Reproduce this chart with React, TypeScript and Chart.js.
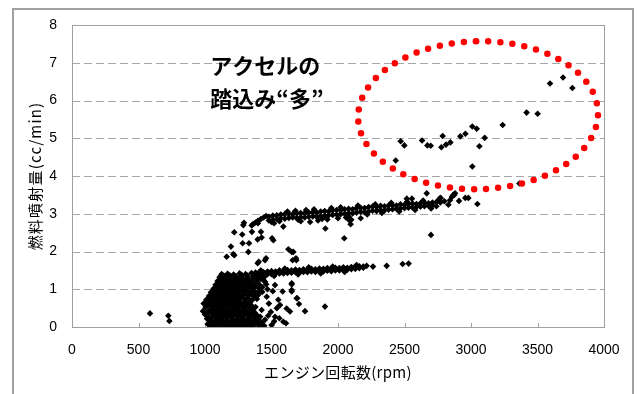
import { useEffect, useRef } from 'react';
import { Chart, registerables } from 'chart.js';

Chart.register(...registerables);

// ---- axis ticks ----
const xTickValues = [0, 500, 1000, 1500, 2000, 2500, 3000, 3500, 4000];
const yTickValues = [0, 1, 2, 3, 4, 5, 6, 7, 8];
const xTitle = 'エンジン回転数(rpm)';
const yTitle = '燃料噴射量(cc/min)';
const noteLines = ['アクセルの', '踏込み“多”'];

// ---- data: [rpm, cc/min] ----
const lowIdle: [number, number][] = [
  [586, 0.36], [724, 0.30], [732, 0.16],
];

const idleBlob: [number, number][] = [
  [1040, 0.03], [1080, 0.02], [1120, 0.04], [1160, 0.02], [1200, 0.03], [1240, 0.01], [1280, 0.04], [1320, 0.02], [1360, 0.03], [1400, 0.05], [1445, 0.03],
  [1060, 0.13], [1100, 0.12], [1140, 0.14], [1180, 0.11], [1220, 0.13], [1260, 0.12], [1300, 0.14], [1340, 0.11], [1380, 0.13], [1425, 0.12],
  [1015, 0.22], [1045, 0.23], [1085, 0.21], [1125, 0.22], [1165, 0.24], [1205, 0.21], [1245, 0.23], [1285, 0.22], [1325, 0.21], [1370, 0.24],
  [1000, 0.33], [1065, 0.32], [1105, 0.31], [1145, 0.33], [1185, 0.32], [1225, 0.34], [1265, 0.31], [1305, 0.33], [1350, 0.32], [1395, 0.30],
  [985, 0.42], [1030, 0.43], [1070, 0.41], [1110, 0.42], [1150, 0.44], [1190, 0.41], [1230, 0.43], [1270, 0.42], [1315, 0.41], [1360, 0.44],
  [1005, 0.52], [1050, 0.53], [1090, 0.51], [1130, 0.52], [1170, 0.54], [1210, 0.51], [1250, 0.53], [1290, 0.52], [1335, 0.50], [1380, 0.53],
  [990, 0.62], [1035, 0.63], [1075, 0.61], [1115, 0.62], [1155, 0.64], [1195, 0.61], [1235, 0.63], [1275, 0.62], [1320, 0.60],
  [1010, 0.72], [1055, 0.73], [1095, 0.71], [1135, 0.72], [1175, 0.74], [1215, 0.71], [1255, 0.73], [1300, 0.72], [1345, 0.70], [1390, 0.74],
  [1030, 0.82], [1075, 0.83], [1115, 0.81], [1155, 0.82], [1195, 0.84], [1235, 0.81], [1280, 0.83], [1325, 0.82], [1370, 0.80],
  [1045, 0.92], [1090, 0.93], [1130, 0.91], [1170, 0.92], [1210, 0.94], [1250, 0.91], [1295, 0.93], [1340, 0.92], [1385, 0.90], [1430, 0.93],
  [1065, 1.02], [1105, 1.03], [1145, 1.01], [1185, 1.02], [1225, 1.04], [1265, 1.01], [1310, 1.03], [1355, 1.02], [1400, 1.05],
  [1080, 1.12], [1120, 1.13], [1160, 1.11], [1200, 1.12], [1240, 1.14], [1280, 1.11], [1325, 1.13], [1370, 1.12], [1415, 1.10], [1460, 1.13],
  [1095, 1.22], [1135, 1.23], [1175, 1.21], [1215, 1.22], [1255, 1.24], [1300, 1.21], [1345, 1.23], [1390, 1.22], [1440, 1.24],
  [1110, 1.32], [1150, 1.33], [1190, 1.31], [1230, 1.32], [1270, 1.34], [1315, 1.31], [1360, 1.33], [1405, 1.32], [1450, 1.34],
  [1125, 1.40], [1170, 1.41], [1215, 1.39], [1260, 1.42], [1305, 1.40], [1350, 1.43],
];

const idleBlobFill: [number, number][] = [
  [1020, 0.08], [1060, 0.07], [1100, 0.09], [1140, 0.08], [1180, 0.07], [1220, 0.09], [1260, 0.08], [1300, 0.06], [1340, 0.08], [1380, 0.09], [1420, 0.07],
  [1035, 0.18], [1080, 0.17], [1120, 0.19], [1160, 0.18], [1200, 0.17], [1240, 0.19], [1280, 0.18], [1320, 0.16], [1360, 0.18], [1400, 0.19],
  [1025, 0.27], [1085, 0.28], [1125, 0.26], [1165, 0.28], [1205, 0.27], [1245, 0.29], [1285, 0.27], [1330, 0.26], [1375, 0.28], [1415, 0.27],
  [1010, 0.37], [1045, 0.38], [1085, 0.36], [1125, 0.37], [1165, 0.39], [1205, 0.36], [1250, 0.38], [1290, 0.37], [1330, 0.36], [1375, 0.38],
  [1050, 0.47], [1090, 0.48], [1130, 0.46], [1170, 0.47], [1210, 0.49], [1250, 0.46], [1290, 0.48], [1340, 0.47],
  [1020, 0.57], [1070, 0.58], [1110, 0.56], [1150, 0.57], [1190, 0.59], [1230, 0.56], [1270, 0.58], [1310, 0.57], [1355, 0.55],
  [1015, 0.67], [1055, 0.68], [1095, 0.66], [1135, 0.67], [1175, 0.69], [1215, 0.66], [1255, 0.68], [1300, 0.67], [1340, 0.65],
  [1035, 0.77], [1075, 0.78], [1115, 0.76], [1155, 0.77], [1195, 0.79], [1235, 0.76], [1275, 0.78], [1320, 0.77], [1365, 0.75],
  [1050, 0.87], [1095, 0.88], [1135, 0.86], [1175, 0.87], [1215, 0.89], [1255, 0.86], [1300, 0.88], [1350, 0.87], [1400, 0.85],
  [1065, 0.97], [1110, 0.98], [1150, 0.96], [1190, 0.97], [1230, 0.99], [1270, 0.96], [1315, 0.98], [1360, 0.97], [1410, 0.95],
  [1085, 1.07], [1125, 1.08], [1165, 1.06], [1205, 1.07], [1245, 1.09], [1290, 1.06], [1335, 1.08], [1380, 1.07], [1430, 1.05],
  [1100, 1.17], [1140, 1.18], [1180, 1.16], [1220, 1.17], [1260, 1.19], [1305, 1.16], [1350, 1.18], [1395, 1.17],
  [1115, 1.27], [1155, 1.28], [1195, 1.26], [1235, 1.27], [1280, 1.29], [1325, 1.26], [1370, 1.28], [1420, 1.27],
  [1140, 1.36], [1185, 1.37], [1230, 1.35], [1275, 1.38], [1320, 1.36], [1380, 1.39], [1430, 1.38],
];

const idleScatter: [number, number][] = [
  [1464, 0.80], [1551, 0.72], [1564, 0.58], [1614, 0.49], [1639, 0.41], [1589, 0.14],
  [1526, 0.27], [1501, 0.05], [1451, 0.19], [1652, 0.94], [1584, 0.94], [1689, 0.76],
  [1526, 1.11], [1451, 1.20], [1426, 0.45], [1652, 1.16], [1652, 0.98], [1694, 0.76],
  [1707, 0.61], [1752, 0.42], [1902, 0.54], [1609, 0.10], [1559, 0.23], [1480, 0.62],
  [1510, 0.95], [1470, 1.00], [1495, 0.40], [1540, 0.50], [1475, 0.30], [1520, 0.15],
];

const lowBand: [number, number][] = [
  [1380, 1.44], [1380, 1.36], [1410, 1.46], [1410, 1.38], [1440, 1.45], [1440, 1.37],
  [1470, 1.47], [1470, 1.40], [1500, 1.48], [1500, 1.40], [1530, 1.47], [1530, 1.41],
  [1560, 1.50], [1560, 1.42], [1590, 1.49], [1590, 1.42], [1620, 1.51], [1620, 1.43],
  [1650, 1.50], [1650, 1.44], [1680, 1.52], [1680, 1.45], [1710, 1.51], [1710, 1.44],
  [1740, 1.53], [1740, 1.46], [1770, 1.52], [1770, 1.45], [1800, 1.54], [1800, 1.47],
  [1830, 1.53], [1830, 1.46], [1860, 1.55], [1860, 1.48], [1890, 1.54], [1890, 1.47],
  [1920, 1.56], [1920, 1.49], [1950, 1.55], [1950, 1.48], [1980, 1.57], [1980, 1.50],
  [2010, 1.56], [2010, 1.50], [2040, 1.58], [2040, 1.51], [2070, 1.57], [2070, 1.52],
  [2100, 1.59], [2100, 1.53], [2130, 1.60], [2130, 1.54], [2160, 1.61], [2160, 1.56],
  [2190, 1.60], [2190, 1.57], [2215, 1.62],
  [2263, 1.60], [2366, 1.62], [2486, 1.67], [2531, 1.68],
  [1420, 1.50], [1520, 1.35], [1600, 1.55], [1700, 1.39], [1780, 1.58], [1870, 1.42],
  [1960, 1.60], [2050, 1.46], [2140, 1.64],
];

const risingSpray: [number, number][] = [
  [1163, 1.86], [1213, 1.93], [1220, 1.90], [1195, 2.13], [1220, 2.51], [1280, 2.45],
  [1288, 2.70], [1293, 2.76], [1351, 2.69], [1362, 2.73], [1380, 2.77], [1398, 2.81],
  [1420, 2.86], [1440, 2.90], [1459, 2.94], [1398, 2.75], [1421, 2.52], [1353, 2.52],
  [1283, 2.22], [1331, 2.22], [1396, 2.32], [1426, 2.37], [1504, 2.35], [1514, 2.30],
  [1519, 2.75], [1589, 2.66], [1326, 1.99], [1627, 2.06], [1664, 1.99], [1459, 1.82],
  [1684, 1.82], [1396, 1.69], [1404, 1.73], [1451, 1.77], [1652, 1.99], [1687, 1.77],
  [1659, 1.77], [1652, 1.13], [1905, 2.61], [2047, 2.35], [2095, 2.72], [2085, 2.83],
  [2171, 2.88], [2699, 2.44],
];

const highBand: [number, number][] = [
  [1480, 2.92], [1480, 2.82], [1510, 2.95], [1510, 2.84], [1540, 2.96], [1540, 2.86],
  [1570, 2.98], [1570, 2.88], [1600, 2.99], [1600, 2.87], [1630, 3.00], [1630, 2.89],
  [1660, 2.99], [1660, 2.90], [1690, 3.01], [1690, 2.89], [1720, 3.02], [1720, 2.91],
  [1750, 3.01], [1750, 2.90], [1780, 3.03], [1780, 2.92], [1810, 3.04], [1810, 2.93],
  [1840, 3.03], [1840, 2.92], [1870, 3.06], [1870, 2.94], [1900, 3.07], [1900, 2.95],
  [1930, 3.06], [1930, 2.96], [1960, 3.09], [1960, 2.97], [1990, 3.10], [1990, 2.98],
  [2020, 3.09], [2020, 2.99], [2050, 3.12], [2050, 3.00], [2080, 3.13], [2080, 3.02],
  [2110, 3.12], [2110, 3.01], [2140, 3.15], [2140, 3.03], [2170, 3.16], [2170, 3.05],
  [2200, 3.15], [2200, 3.04], [2230, 3.18], [2230, 3.06], [2260, 3.19], [2260, 3.08],
  [2290, 3.18], [2290, 3.07], [2320, 3.21], [2320, 3.10], [2350, 3.20], [2350, 3.09],
  [2380, 3.22], [2380, 3.11], [2410, 3.23], [2410, 3.12], [2440, 3.22], [2440, 3.13],
  [2470, 3.25], [2470, 3.14], [2500, 3.24], [2500, 3.15], [2530, 3.26], [2530, 3.16],
  [2560, 3.27], [2560, 3.17], [2590, 3.26], [2590, 3.18], [2620, 3.28], [2620, 3.19],
  [2650, 3.29], [2650, 3.20], [2680, 3.28], [2680, 3.21], [2710, 3.30], [2710, 3.22],
  [2740, 3.31], [2740, 3.20], [2770, 3.30], [2800, 3.33], [2830, 3.24],
  [1720, 2.80], [1790, 2.78], [1850, 2.82], [1920, 2.85], [2000, 2.88], [2060, 2.90], [2100, 2.84],
];

const highBandEdge: [number, number][] = [
  [1500, 2.78], [1560, 2.80], [1620, 3.06], [1680, 3.08], [1700, 2.84], [1760, 3.10],
  [1820, 3.12], [1880, 2.86], [1950, 3.15], [2020, 3.17], [2080, 2.93], [2150, 3.22],
  [2220, 2.98], [2280, 3.25], [2330, 3.02], [2400, 3.29], [2460, 3.06], [2520, 3.32],
  [2580, 3.10], [2640, 3.35], [2700, 3.14], [2760, 3.38],
];

const heavyAccel: [number, number][] = [
  [3594, 6.45], [3692, 6.61], [3762, 6.33], [3418, 5.68], [3501, 5.65], [3238, 5.35],
  [3010, 5.31], [3043, 5.25], [3103, 5.01], [3063, 4.79], [2958, 5.12], [2920, 5.05],
  [2845, 4.89], [2812, 4.83], [2787, 5.06], [2777, 4.76], [2697, 4.80], [2672, 4.81],
  [2632, 4.94], [2471, 4.92], [2499, 4.81], [2434, 4.41], [3010, 4.25], [3364, 3.80],
  [2667, 3.54], [2517, 3.40], [2556, 3.40], [2772, 3.42], [2857, 3.45], [2874, 3.50],
  [2957, 3.42], [2980, 3.42], [3048, 3.26], [2842, 3.36], [2910, 3.34], [2767, 3.41],
  [2867, 3.50], [2880, 3.54],
];

// ---- annotation anchors (data coordinates) ----
const noteAnchor = { x: 1040, y1: 6.92, y2: 6.05 };
const ellipseSpec = { cx: 3053, cy: 5.61, rx: 902, ry: 1.96 };

const seriesGroups = [lowIdle, idleBlob, idleBlobFill, idleScatter, lowBand, risingSpray, highBand, highBandEdge, heavyAccel];

const decorPlugin = {
  id: 'decor',
  beforeDatasetsDraw(chart: any) {
    const { ctx, chartArea: a, scales } = chart;
    const ys = scales.y;
    const xs = scales.x;
    ctx.save();
    ctx.strokeStyle = '#a6a6a6';
    ctx.lineWidth = 1;
    ctx.setLineDash([8, 4]);
    yTickValues.forEach((v) => {
      if (v === 0 || v === 8) return;
      const py = Math.round(ys.getPixelForValue(v)) + 0.5;
      ctx.beginPath();
      ctx.moveTo(a.left, py);
      ctx.lineTo(a.right, py);
      ctx.stroke();
    });
    ctx.setLineDash([]);
    ctx.strokeStyle = '#a0a0a0';
    ctx.strokeRect(Math.round(a.left) + 0.5, Math.round(a.top) + 0.5, Math.round(a.right - a.left), Math.round(a.bottom - a.top));
    xTickValues.forEach((v) => {
      const px = Math.round(xs.getPixelForValue(v)) + 0.5;
      ctx.beginPath();
      ctx.moveTo(px, a.bottom);
      ctx.lineTo(px, a.bottom - 4);
      ctx.stroke();
    });
    ctx.restore();
  },
  afterDatasetsDraw(chart: any) {
    const { ctx, scales, chartArea: a } = chart;
    const xs = scales.x;
    const ys = scales.y;
    ctx.save();
    const cx = xs.getPixelForValue(ellipseSpec.cx);
    const cy = ys.getPixelForValue(ellipseSpec.cy);
    const rx = xs.getPixelForValue(ellipseSpec.cx + ellipseSpec.rx) - cx;
    const ry = cy - ys.getPixelForValue(ellipseSpec.cy + ellipseSpec.ry);
    ctx.strokeStyle = '#ff0000';
    ctx.lineWidth = 6.5;
    ctx.lineCap = 'round';
    ctx.setLineDash([0, 12.1]);
    ctx.beginPath();
    ctx.ellipse(cx, cy, rx, ry, -0.025, -Math.PI / 2, Math.PI * 1.5);
    ctx.stroke();
    ctx.setLineDash([]);
    ctx.fillStyle = '#000';
    ctx.font = 'bold 22px "Noto Sans CJK JP"';
    ctx.textBaseline = 'middle';
    ctx.textAlign = 'left';
    ctx.fillText(noteLines[0], xs.getPixelForValue(noteAnchor.x), ys.getPixelForValue(noteAnchor.y1));
    ctx.fillText(noteLines[1], xs.getPixelForValue(noteAnchor.x), ys.getPixelForValue(noteAnchor.y2));

    // axis titles
    ctx.font = '15px "Noto Sans CJK JP"';
    ctx.textAlign = 'center';
    ctx.textBaseline = 'middle';
    (ctx as any).letterSpacing = '0.3px';
    ctx.fillText(xTitle, (a.left + a.right) / 2, a.bottom + 45);
    ctx.save();
    (ctx as any).letterSpacing = '1.2px';
    ctx.translate(a.left - 36.5, (a.top + a.bottom) / 2);
    ctx.rotate(-Math.PI / 2);
    ctx.fillText(yTitle, 0, 0);
    ctx.restore();
    (ctx as any).letterSpacing = '0px';
    ctx.restore();
  },
};

export default function App() {
  const ref = useRef<HTMLCanvasElement>(null);
  useEffect(() => {
    document.body.style.margin = '0';
    const canvas = ref.current;
    if (!canvas) return;
    const datasets = seriesGroups.map((g) => ({
      data: g.map(([x, y]) => ({ x, y })),
      pointStyle: 'rectRot' as const,
      pointRadius: 3.3,
      pointBorderWidth: 0,
      backgroundColor: '#000',
      borderColor: '#000',
      showLine: false,
    }));
    const chart = new Chart(canvas, {
      type: 'scatter',
      data: { datasets },
      options: {
        animation: false,
        responsive: false,
        events: [],
        layout: { padding: { top: 25, right: 33, left: 0, bottom: 0 } },
        plugins: { legend: { display: false }, tooltip: { enabled: false } },
        scales: {
          x: {
            type: 'linear',
            min: 0,
            max: 4000,
            afterBuildTicks: (s: any) => { s.ticks = xTickValues.map((v) => ({ value: v })); },
            afterFit: (s: any) => { s.height = 67; },
            grid: { display: false, drawTicks: false },
            border: { display: false },
            ticks: { color: '#000', padding: 15, font: { family: '"Liberation Sans", Arial', size: 14 }, callback: (v: any) => String(v) },
          },
          y: {
            type: 'linear',
            min: 0,
            max: 8,
            afterBuildTicks: (s: any) => { s.ticks = yTickValues.map((v) => ({ value: v })); },
            afterFit: (s: any) => { s.width = 72; },
            grid: { display: false, drawTicks: false },
            border: { display: false },
            ticks: { color: '#000', padding: 15, font: { family: '"Liberation Sans", Arial', size: 14 }, callback: (v: any) => String(v) },
          },
        },
      },
      plugins: [decorPlugin],
    });
    return () => chart.destroy();
  }, []);
  return (
    <div style={{ position: 'relative', width: 637, height: 394, overflow: 'hidden', background: '#fff' }}>
      <div style={{ position: 'absolute', left: 12, top: 8, width: 622, height: 420, border: '2px solid #a0a0a0', boxSizing: 'border-box' }} />
      <canvas ref={ref} width={637} height={394} style={{ position: 'absolute', left: 0, top: 0 }} />
    </div>
  );
}
